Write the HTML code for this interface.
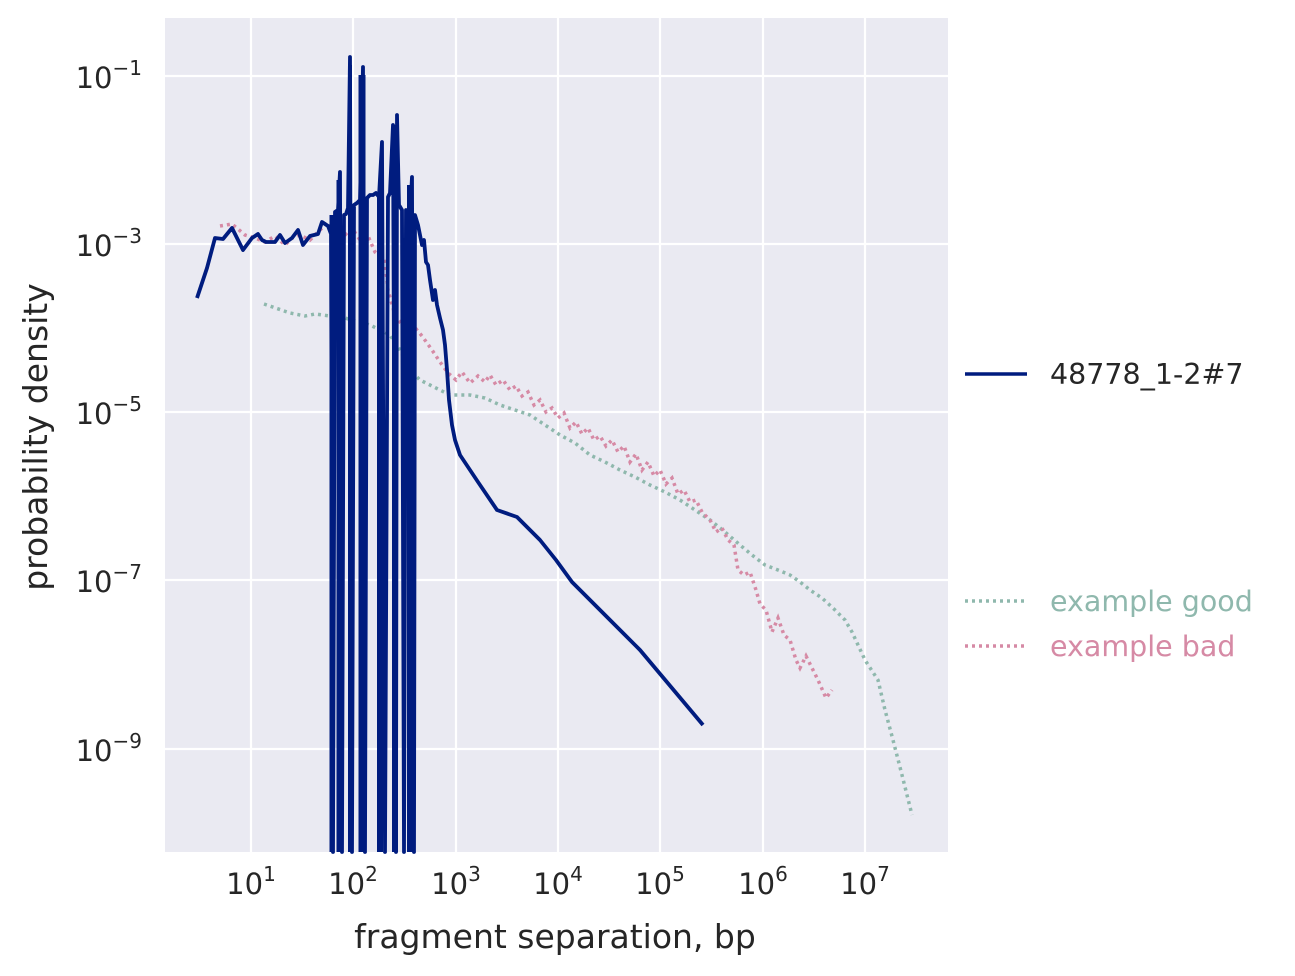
<!DOCTYPE html>
<html><head><style>body{margin:0;background:#fff}svg{display:block;font-family:"DejaVu Sans","Liberation Sans",sans-serif}</style></head>
<body>
<svg width="1295" height="976" viewBox="0 0 1295 976" xmlns="http://www.w3.org/2000/svg">
<rect x="165" y="18" width="783" height="834" fill="#eaeaf2"/>
<g stroke="#fff" stroke-width="2.2">
<line x1="251" y1="18" x2="251" y2="852"/><line x1="353" y1="18" x2="353" y2="852"/><line x1="456" y1="18" x2="456" y2="852"/><line x1="558" y1="18" x2="558" y2="852"/><line x1="660" y1="18" x2="660" y2="852"/><line x1="763" y1="18" x2="763" y2="852"/><line x1="865" y1="18" x2="865" y2="852"/>
<line x1="165" y1="76" x2="948" y2="76"/><line x1="165" y1="244" x2="948" y2="244"/><line x1="165" y1="412" x2="948" y2="412"/><line x1="165" y1="580" x2="948" y2="580"/><line x1="165" y1="749" x2="948" y2="749"/>
</g>
<g fill="none" stroke-linecap="butt">
<polyline stroke="#8fb8ad" stroke-width="3.5" stroke-dasharray="3,4" points="264,304 290,313 305,316 315,314 345,318 370,325 390,335 400,350 410,370 420,380 430,385 450,395 470,395 485,398 500,405 515,410 530,415 545,425 560,435 575,443 590,455 605,462 620,470 635,477 650,485 665,492 680,500 695,510 710,520 725,532 740,545 752,555 765,565 778,570 790,575 800,582 810,590 822,598 835,610 845,620 852,632 865,660 878,680 885,710 893,740 902,775 912,815"/>
<polyline stroke="#d68aa5" stroke-width="3.5" stroke-dasharray="3,4" points="220,226 232,224 245,235 255,238 265,242 275,236 285,245 292,238 300,235 310,240 320,230 328,222 335,240 345,235 352,228 360,240 368,236 375,252 382,258 385,262 388,290 395,315 402,325 412,324 422,336 432,350 440,362 448,373 456,380 462,372 470,383 478,376 485,382 490,375 496,385 503,380 510,390 516,386 522,396 528,392 534,405 540,400 546,412 552,408 558,418 564,413 570,428 576,422 582,434 588,428 594,440 600,436 606,446 612,440 618,452 624,446 630,462 636,454 642,470 648,462 654,476 660,470 666,484 672,478 678,494 684,490 690,502 696,500 702,512 710,520 716,532 722,528 728,540 734,545 738,570 744,575 750,572 756,590 760,604 766,610 772,632 778,618 784,635 790,640 796,660 800,668 806,656 812,668 818,680 826,698 832,690"/>
<polyline stroke="#001c7f" stroke-width="3.8" stroke-linejoin="round" points="197,298 207,268 215,238 223,239 232,228 243,250 252,238 258,234 262,240 266,242 275,242 280,235 285,243 292,238 298,230 303,245 310,236 318,234 322,222 328,226 331,234 333,852 335,212 338,210 340,172 342,852 344,215 346,214 348,208 350,57 352,852 354,205 357,203 360,200 363,67 365,852 367,198 370,195 373,195 376,193 379,197 382,142 385,852 388,197 390,193 393,125 396,852 397,115 399,205 402,210 404,852 406,210 408,215 410,217 412,177 414,852 415,215 418,225 420,235 422,245 424,240 426,262 428,265 430,280 433,300 435,290 437,305 440,318 443,330 445,345 447,370 449,400 452,425 455,440 460,455 478,482 497,510 517,517 540,540 556,560 572,582 600,610 640,650 703,725"/>
<g stroke="#001c7f">
<line x1="331.5" y1="215" x2="331.5" y2="852" stroke-width="4"/><line x1="339" y1="180" x2="339" y2="852" stroke-width="5"/><line x1="350" y1="65" x2="350" y2="852" stroke-width="4"/><line x1="362" y1="75" x2="362" y2="852" stroke-width="7"/><line x1="380" y1="195" x2="380" y2="852" stroke-width="6"/><line x1="395" y1="125" x2="395" y2="852" stroke-width="6"/><line x1="410" y1="185" x2="410" y2="852" stroke-width="6"/>
</g>
</g>
<g font-size="29" fill="#262626">
<g text-anchor="end">
<text x="142" y="88">10<tspan font-size="20" dy="-13">−1</tspan></text>
<text x="142" y="256">10<tspan font-size="20" dy="-13">−3</tspan></text>
<text x="142" y="424">10<tspan font-size="20" dy="-13">−5</tspan></text>
<text x="142" y="592">10<tspan font-size="20" dy="-13">−7</tspan></text>
<text x="142" y="761">10<tspan font-size="20" dy="-13">−9</tspan></text>
</g>
<g text-anchor="middle">
<text x="251" y="894">10<tspan font-size="20" dy="-13">1</tspan></text>
<text x="353" y="894">10<tspan font-size="20" dy="-13">2</tspan></text>
<text x="456" y="894">10<tspan font-size="20" dy="-13">3</tspan></text>
<text x="558" y="894">10<tspan font-size="20" dy="-13">4</tspan></text>
<text x="660" y="894">10<tspan font-size="20" dy="-13">5</tspan></text>
<text x="763" y="894">10<tspan font-size="20" dy="-13">6</tspan></text>
<text x="865" y="894">10<tspan font-size="20" dy="-13">7</tspan></text>
</g>
<text x="555" y="948" text-anchor="middle" font-size="33">fragment separation, bp</text>
<text transform="translate(47,437) rotate(-90)" text-anchor="middle" font-size="33">probability density</text>
<line x1="965" y1="374" x2="1027" y2="374" stroke="#001c7f" stroke-width="3.5"/>
<text x="1050" y="384" font-size="28.5">48778_1-2#7</text>
<line x1="965" y1="601" x2="1027" y2="601" stroke="#8fb8ad" stroke-width="3.5" stroke-dasharray="3,4"/>
<text x="1050" y="611" fill="#8fb8ad" font-size="28.5">example good</text>
<line x1="965" y1="646" x2="1027" y2="646" stroke="#d68aa5" stroke-width="3.5" stroke-dasharray="3,4"/>
<text x="1050" y="656" fill="#d68aa5" font-size="28.5">example bad</text>
</g>
</svg>
</body></html>
